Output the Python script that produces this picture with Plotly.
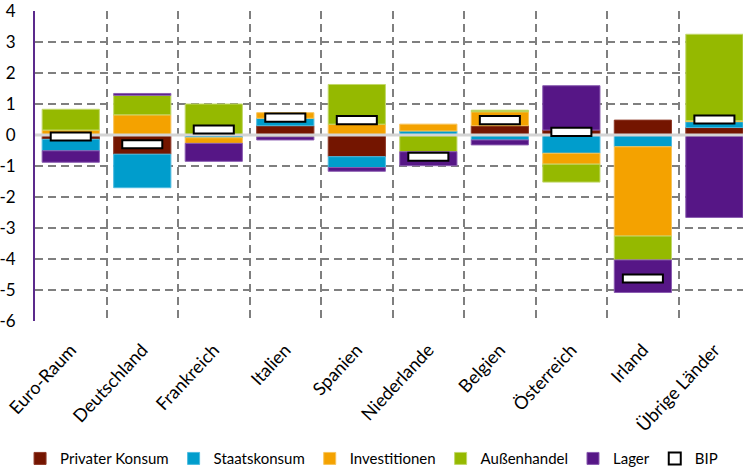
"""
Wachstumsbeiträge zum BIP im Euro-Raum - gestapelte Balken
"""
import plotly.graph_objects as go

# Kategorien (Länder)
laender = ['Euro-Raum', 'Deutschland', 'Frankreich', 'Italien', 'Spanien',
           'Niederlande', 'Belgien', 'Österreich', 'Irland', 'Übrige Länder']

# Beiträge in Prozentpunkten
privater_konsum = [-0.14, -0.62, 0.00, 0.30, -0.70, 0.00, 0.30, 0.16, 0.48, 0.24]
staatskonsum = [-0.37, -1.08, -0.09, 0.24, -0.35, 0.13, -0.16, -0.59, -0.38, 0.19]
investitionen = [0.16, 0.65, -0.18, 0.18, 0.35, 0.22, 0.45, -0.35, -2.88, 0.03]
aussenhandel = [0.67, 0.63, 1.00, -0.06, 1.28, -0.54, 0.05, -0.58, -0.77, 2.79]
lager = [-0.37, 0.06, -0.58, -0.10, -0.12, -0.45, -0.16, 1.43, -1.05, -2.66]
bip = [-0.05, -0.30, 0.18, 0.56, 0.48, -0.70, 0.48, 0.10, -4.63, 0.50]

# Achsenbeschriftung
y_ticks = [4, 3, 2, 1, 0, -1, -2, -3, -4, -5, -6]
y_labels = ['4', '3', '2', '1', '0', '-1', '-2', '-3', '-4', '-5', '-6']

FONT = 'Lato, "Open Sans", sans-serif'
GRID = '#7f7f7f'


def create_bip_chart() -> go.Figure:
    """
    Erstellt das gestapelte Balkendiagramm mit BIP-Markierung
    """
    fig = go.Figure()

    reihen = [
        ('Privater Konsum', privater_konsum, '#741500', '#8f3a28'),
        ('Staatskonsum', staatskonsum, '#009dcc', '#4dbbe0'),
        ('Investitionen', investitionen, '#f4a200', '#f8c45a'),
        ('Außenhandel', aussenhandel, '#95b900', '#c2d86a'),
        ('Lager', lager, '#561686', '#8a5cb0'),
    ]
    for name, werte, farbe, rand in reihen:
        fig.add_trace(go.Bar(
            x=laender, y=werte, name=name, width=0.8,
            marker=dict(color=farbe, line=dict(color=rand, width=1)),
            xaxis='x', yaxis='y'))

    # Nulllinie über den Balken (eigene, unsichtbare x-Achse)
    fig.add_trace(go.Scatter(
        x=[0, 1], y=[0, 0], mode='lines', xaxis='x2', yaxis='y',
        line=dict(color='#d4d4d4', width=3), showlegend=False, hoverinfo='skip'))

    # BIP als weißes Kästchen mit schwarzem Rand
    hoehe = 0.26
    fig.add_trace(go.Bar(
        x=laender, y=[hoehe] * len(bip), base=[b - hoehe / 2 for b in bip],
        name='BIP', width=0.56, xaxis='x3', yaxis='y',
        marker=dict(color='white', line=dict(color='black', width=2))))

    x_range = [-0.5, 9.4]
    fig.update_layout(
        barmode='relative',
        width=743, height=469,
        margin=dict(l=35, r=0, t=11, b=148),
        plot_bgcolor='white', paper_bgcolor='white',
        font=dict(family=FONT, size=16, color='black'),
        xaxis=dict(
            type='category', range=x_range, tickson='boundaries',
            showgrid=True, gridcolor=GRID, gridwidth=2, griddash='8px,5px',
            ticks='', tickangle=-47, tickfont=dict(size=18),
            ticklabelstandoff=14, automargin=False,
            showline=False, zeroline=False),
        xaxis2=dict(overlaying='x', range=[0, 1], visible=False, fixedrange=True),
        xaxis3=dict(overlaying='x', type='category', range=x_range,
                    categoryarray=laender, visible=False),
        yaxis=dict(
            range=[-6, 4], tickvals=y_ticks, ticktext=y_labels,
            showgrid=True, gridcolor=GRID, gridwidth=2, griddash='8px,5px',
            zeroline=False, showline=True, linecolor='#5b2a8c', linewidth=2,
            ticks='', ticklabelstandoff=14, tickfont=dict(size=17),
            ticklabeloverflow='allow', automargin=False),
        legend=dict(
            orientation='h', xref='container', x=0.027, xanchor='left',
            yref='container', y=0.022, yanchor='middle',
            font=dict(size=15), itemwidth=30, traceorder='normal'),
    )
    return fig


fig = create_bip_chart()
# Seitenrand des Browsers entfernen, damit die Grafik genau 743x469 füllt
fig.write_html("out.html", config={'displayModeBar': False},
               post_script="document.body.style.margin = '0';")
